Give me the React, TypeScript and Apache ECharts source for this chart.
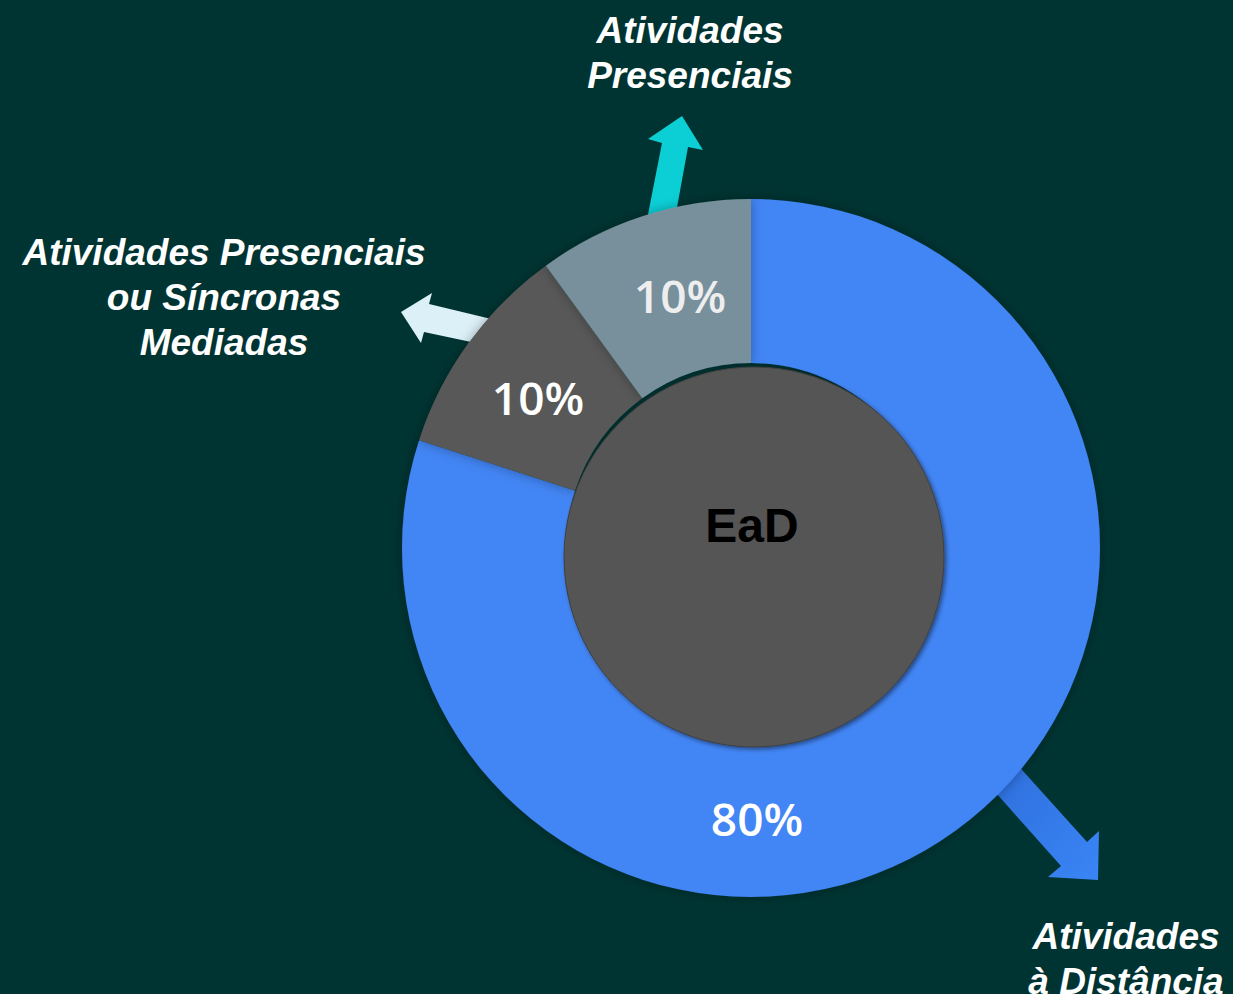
import React, { useEffect, useRef } from "react";
import * as echarts from "echarts";

const categories = ["Atividades à Distância", "Atividades Presenciais ou Síncronas Mediadas", "Atividades Presenciais"];
const values = [80, 10, 10];
const sliceColors = ["#4285f4", "#595959", "#78909c"];
const labelColors = ["#ffffff", "#ffffff", "#eeeeee"];
const centerTitle = "EaD";
const outerLabels = [
  "Atividades\nà Distância",
  "Atividades Presenciais\nou Síncronas\nMediadas",
  "Atividades\nPresenciais",
];

export default function App() {
  const ref = useRef<HTMLDivElement>(null);
  useEffect(() => {
    if (!ref.current) return;
    const chart = echarts.init(ref.current, null, { renderer: "svg" });
    const cx = 751, cy = 548;
    const labelPos = [
      { x: 757, y: 818 },
      { x: 538, y: 397 },
      { x: 680, y: 295 },
    ];
    const textStyleBase = {
      fill: "#ffffff",
      fontFamily: "Liberation Sans, Arial, sans-serif",
      fontWeight: "bold",
      fontStyle: "italic",
      fontSize: 37,
      lineHeight: 45,
      align: "center",
      verticalAlign: "top",
    };
    chart.setOption({
      animation: false,
      backgroundColor: "#003432",
      series: [
        {
          type: "pie",
          z: 5,
          center: [cx, cy],
          radius: [185, 349],
          startAngle: 90,
          clockwise: true,
          silent: true,
          data: categories.map((c, i) => ({
            name: c,
            value: values[i],
            itemStyle: {
              color: sliceColors[i],
              shadowBlur: 12,
              shadowColor: "rgba(0,0,0,0.3)",
            },
            label: { color: labelColors[i] },
          })),
          label: {
            show: true,
            position: "inside",
            formatter: (p: any) => `${p.value}%`,
            fontFamily: "Open Sans, Lato, sans-serif",
            fontWeight: 600,
            fontSize: 46,
          },
          labelLine: { show: false },
          labelLayout: (p: any) => labelPos[p.dataIndex] || {},
        },
      ],
      graphic: [
        {
          type: "polygon",
          z: 1,
          shape: {
            points: [
              [643, 240], [662, 143], [648, 139], [682, 116], [703, 150], [688, 147], [672, 235],
            ],
          },
          style: { fill: "#0ccfd6" },
        },
        {
          type: "polygon",
          z: 1,
          shape: {
            points: [
              [520, 326], [429, 304], [432, 293], [401, 312], [421, 343], [424, 332], [514, 351],
            ],
          },
          style: { fill: "#dcf0f8" },
        },
        {
          type: "polygon",
          z: 1,
          shape: {
            points: [
              [995, 740], [1087, 842], [1099, 831], [1098, 880], [1048, 877], [1061, 866], [973, 767],
            ],
          },
          style: {
            fill: new echarts.graphic.LinearGradient(0, 0, 1, 1, [
              { offset: 0, color: "#2c6ad6" },
              { offset: 1, color: "#3a85f6" },
            ]),
          },
        },
        {
          type: "circle",
          z: 20,
          shape: { cx: 754, cy: 557, r: 190 },
          style: {
            fill: "#555555",
            stroke: "#3f3f3f",
            lineWidth: 1,
            shadowBlur: 4,
            shadowOffsetX: 2,
            shadowOffsetY: 2,
            shadowColor: "rgba(0,0,0,0.45)",
          },
        },
        {
          type: "text",
          z: 21,
          x: 752,
          y: 525,
          style: {
            text: centerTitle,
            fill: "#000000",
            fontFamily: "Liberation Sans, Arial, sans-serif",
            fontWeight: "bold",
            fontSize: 48,
            align: "center",
            verticalAlign: "middle",
          },
        },
        {
          type: "text",
          z: 21,
          x: 690,
          y: 8,
          style: { ...textStyleBase, text: outerLabels[2] },
        },
        {
          type: "text",
          z: 21,
          x: 224,
          y: 230,
          style: { ...textStyleBase, text: outerLabels[1] },
        },
        {
          type: "text",
          z: 21,
          x: 1126,
          y: 914,
          style: { ...textStyleBase, text: outerLabels[0] },
        },
      ],
    });
    return () => chart.dispose();
  }, []);
  return (
    <div
      ref={ref}
      style={{ position: "fixed", left: 0, top: 0, width: 1233, height: 994 }}
    />
  );
}
